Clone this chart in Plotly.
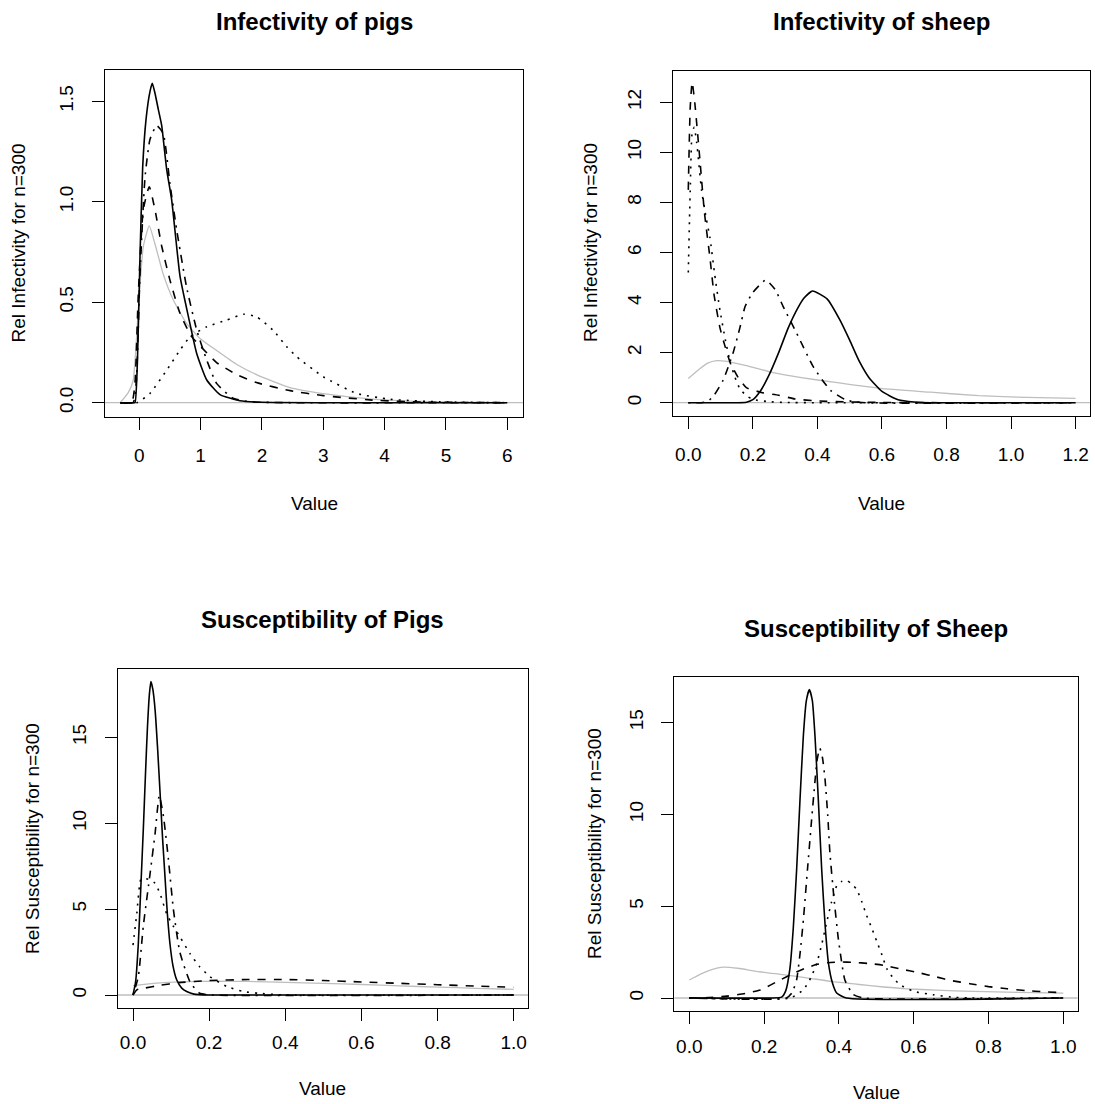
import plotly.graph_objects as go

W, H = 1095, 1104

# ---------------- Panel 1: Infectivity of pigs ----------------
p1_solid_x = [-0.31, -0.1, -0.07, -0.03, 0.01, 0.055, 0.11, 0.175, 0.212, 0.256, 0.31, 0.365, 0.447, 0.528, 0.664, 0.8, 0.936, 1.1, 1.316, 1.64, 2.0, 3.0, 6.0]
p1_solid_y = [0, 0, 0.0, 0.21, 0.71, 1.17, 1.41, 1.55, 1.59, 1.54, 1.46, 1.38, 1.16, 1.01, 0.63, 0.43, 0.245, 0.113, 0.04, 0.01, 0.002, 0, 0]
p1_dotdash_x = [-0.31, -0.1, -0.05, 0.01, 0.093, 0.174, 0.283, 0.39, 0.5, 0.61, 0.77, 0.936, 1.1, 1.26, 1.53, 1.8, 2.5, 6.0]
p1_dotdash_y = [0, 0, 0.1, 0.63, 1.12, 1.31, 1.38, 1.34, 1.09, 0.86, 0.577, 0.362, 0.212, 0.096, 0.022, 0.005, 0, 0]
p1_dashed_x = [-0.31, -0.124, -0.07, -0.016, 0.065, 0.163, 0.256, 0.365, 0.5, 0.664, 0.85, 1.0, 1.26, 1.59, 1.91, 2.46, 3.0, 3.8, 4.6, 6.0]
p1_dashed_y = [0, 0, 0.1, 0.54, 0.96, 1.075, 0.96, 0.78, 0.61, 0.445, 0.33, 0.28, 0.2, 0.14, 0.1, 0.06, 0.035, 0.013, 0.003, 0]
p1_dotted_x = [-0.31, -0.04, 0.174, 0.447, 0.664, 0.827, 1.1, 1.425, 1.7, 1.91, 2.18, 2.4, 2.566, 3.0, 3.545, 4.09, 4.9, 6.0]
p1_dotted_y = [0, 0, 0.046, 0.162, 0.262, 0.328, 0.378, 0.411, 0.44, 0.428, 0.361, 0.28, 0.229, 0.129, 0.046, 0.017, 0.004, 0]
p1_grey_x = [-0.31, -0.18, -0.1, -0.02, 0.065, 0.163, 0.256, 0.39, 0.555, 0.77, 0.99, 1.26, 1.59, 1.91, 2.46, 3.0, 3.8, 4.6, 6.0]
p1_grey_y = [0, 0.05, 0.11, 0.444, 0.776, 0.88, 0.79, 0.64, 0.511, 0.395, 0.32, 0.26, 0.19, 0.14, 0.075, 0.045, 0.018, 0.006, 0]

# ---------------- Panel 2: Infectivity of sheep ----------------
p2_solid_x = [0, 0.15, 0.18, 0.2, 0.225, 0.25, 0.28, 0.31, 0.34, 0.36, 0.385, 0.43, 0.47, 0.5, 0.53, 0.56, 0.6, 0.65, 0.7, 0.75, 1.2]
p2_solid_y = [0, 0, 0.02, 0.12, 0.5, 1.1, 2.0, 3.0, 3.8, 4.2, 4.46, 4.15, 3.3, 2.5, 1.65, 1.0, 0.45, 0.12, 0.03, 0, 0]
p2_dotdash_x = [0, 0.04, 0.06, 0.08, 0.108, 0.139, 0.16, 0.176, 0.2, 0.24, 0.27, 0.294, 0.336, 0.387, 0.44, 0.49, 0.55, 1.2]
p2_dotdash_y = [0, 0, 0.05, 0.3, 0.9, 2.0, 3.0, 3.84, 4.4, 4.9, 4.5, 3.84, 2.77, 1.44, 0.5, 0.1, 0, 0]
p2_dashed_x = [0, 0.006, 0.012, 0.02, 0.036, 0.05, 0.067, 0.08, 0.098, 0.115, 0.13, 0.155, 0.18, 0.23, 0.28, 0.33, 0.4, 0.5, 0.6, 0.8, 1.2]
p2_dashed_y = [8.5, 11.8, 12.8, 12.0, 9.7, 7.6, 5.8, 4.3, 3.0, 2.2, 1.6, 1.0, 0.6, 0.4, 0.3, 0.15, 0.07, 0.03, 0.01, 0, 0]
p2_dotted_x = [0, 0.006, 0.012, 0.018, 0.026, 0.041, 0.055, 0.067, 0.082, 0.098, 0.115, 0.13, 0.145, 0.16, 0.18, 0.2, 0.25, 0.3, 0.4, 1.2]
p2_dotted_y = [5.2, 8.5, 10.8, 11.0, 10.4, 8.5, 7.4, 6.6, 5.1, 3.7, 2.5, 1.6, 1.0, 0.55, 0.28, 0.13, 0.04, 0.01, 0, 0]
p2_grey_x = [0, 0.03, 0.06, 0.088, 0.12, 0.18, 0.263, 0.35, 0.45, 0.594, 0.75, 0.9, 1.05, 1.2]
p2_grey_y = [0.97, 1.3, 1.58, 1.68, 1.65, 1.48, 1.2, 1.0, 0.82, 0.57, 0.42, 0.28, 0.21, 0.17]

# ---------------- Panel 3: Susceptibility of Pigs ----------------
p3_solid_x = [0, 0.007, 0.014, 0.02, 0.027, 0.033, 0.038, 0.043, 0.047, 0.052, 0.058, 0.065, 0.071, 0.078, 0.084, 0.09, 0.097, 0.105, 0.115, 0.128, 0.141, 0.16, 0.2, 1.0]
p3_solid_y = [0, 0.8, 3.0, 6.0, 9.6, 13.0, 15.6, 17.5, 18.24, 17.8, 16.6, 14.2, 11.8, 9.0, 6.9, 4.8, 3.0, 1.7, 0.87, 0.4, 0.2, 0.05, 0, 0]
p3_dotdash_x = [0, 0.014, 0.027, 0.045, 0.058, 0.069, 0.08, 0.093, 0.106, 0.123, 0.15, 0.175, 0.21, 1.0]
p3_dotdash_y = [0, 1.07, 4.0, 7.1, 9.4, 11.6, 10.4, 7.9, 5.0, 2.5, 0.75, 0.1, 0, 0]
p3_dotted_x = [0, 0.01, 0.02, 0.027, 0.045, 0.058, 0.071, 0.088, 0.106, 0.123, 0.15, 0.175, 0.202, 0.246, 0.29, 0.33, 0.4, 1.0]
p3_dotted_y = [2.9, 4.75, 6.7, 6.8, 6.7, 6.5, 5.9, 4.75, 4.0, 3.4, 2.4, 1.65, 1.07, 0.5, 0.2, 0.1, 0, 0]
p3_dashed_x = [0, 0.01, 0.03, 0.07, 0.12, 0.2, 0.3, 0.4, 0.5, 0.6, 0.7, 0.8, 0.9, 1.0]
p3_dashed_y = [0, 0.3, 0.4, 0.56, 0.72, 0.84, 0.9, 0.9, 0.84, 0.76, 0.68, 0.6, 0.52, 0.45]
p3_grey_x = [0, 0.03, 0.08, 0.15, 0.22, 0.3, 0.4, 0.5, 0.6, 0.7, 0.8, 0.9, 1.0]
p3_grey_y = [0.55, 0.62, 0.72, 0.78, 0.8, 0.79, 0.74, 0.68, 0.61, 0.53, 0.46, 0.39, 0.33]

# ---------------- Panel 4: Susceptibility of Sheep ----------------
p4_solid_x = [0, 0.22, 0.247, 0.258, 0.269, 0.278, 0.287, 0.296, 0.305, 0.313, 0.321, 0.329, 0.336, 0.345, 0.354, 0.363, 0.372, 0.383, 0.394, 0.42, 1.0]
p4_solid_y = [0, 0, 0.05, 0.4, 1.6, 3.8, 7.0, 10.8, 14.3, 16.2, 16.8, 16.2, 14.3, 10.8, 7.0, 4.0, 1.9, 0.8, 0.27, 0, 0]
p4_dotdash_x = [0, 0.26, 0.275, 0.287, 0.296, 0.305, 0.316, 0.327, 0.336, 0.342, 0.349, 0.356, 0.363, 0.37, 0.376, 0.387, 0.398, 0.407, 0.416, 0.438, 0.465, 1.0]
p4_dotdash_y = [0, 0, 0.3, 1.0, 2.4, 4.25, 7.0, 9.7, 11.8, 13.0, 13.6, 13.1, 11.9, 10.0, 7.9, 5.4, 3.3, 2.0, 0.98, 0.2, 0, 0]
p4_dotted_x = [0, 0.27, 0.305, 0.325, 0.341, 0.355, 0.367, 0.38, 0.394, 0.407, 0.421, 0.435, 0.448, 0.462, 0.474, 0.488, 0.501, 0.515, 0.528, 0.545, 0.563, 0.6, 0.652, 0.7, 0.75, 1.0]
p4_dotted_y = [0, 0, 0.45, 1.1, 1.9, 3.0, 4.1, 5.2, 6.1, 6.35, 6.4, 6.2, 5.9, 5.2, 4.5, 3.8, 3.1, 2.35, 1.6, 1.1, 0.73, 0.36, 0.18, 0.05, 0, 0]
p4_dashed_x = [0, 0.05, 0.1, 0.15, 0.19, 0.243, 0.278, 0.31, 0.34, 0.37, 0.4, 0.44, 0.48, 0.52, 0.56, 0.617, 0.66, 0.7, 0.75, 0.8, 0.85, 0.9, 0.95, 1.0]
p4_dashed_y = [0, 0.02, 0.1, 0.25, 0.44, 0.98, 1.34, 1.62, 1.82, 1.92, 1.96, 1.94, 1.88, 1.78, 1.6, 1.36, 1.15, 0.95, 0.78, 0.62, 0.5, 0.4, 0.34, 0.29]
p4_grey_x = [0, 0.03, 0.06, 0.09, 0.13, 0.18, 0.25, 0.314, 0.38, 0.448, 0.52, 0.582, 0.66, 0.76, 0.88, 1.0]
p4_grey_y = [0.98, 1.3, 1.55, 1.68, 1.62, 1.45, 1.27, 1.1, 0.9, 0.75, 0.6, 0.5, 0.43, 0.36, 0.31, 0.27]

# axis ticks
p1_xticks = [0, 1, 2, 3, 4, 5, 6]
p1_yticks = [0.0, 0.5, 1.0, 1.5]
p2_xticks = [0.0, 0.2, 0.4, 0.6, 0.8, 1.0, 1.2]
p2_yticks = [0, 2, 4, 6, 8, 10, 12]
p3_xticks = [0.0, 0.2, 0.4, 0.6, 0.8, 1.0]
p3_yticks = [0, 5, 10, 15]
p4_xticks = [0.0, 0.2, 0.4, 0.6, 0.8, 1.0]
p4_yticks = [0, 5, 10, 15]
baseline_y = 0

titles = ["Infectivity of pigs", "Infectivity of sheep", "Susceptibility of Pigs", "Susceptibility of Sheep"]
ytitles = ["Rel Infectivity for n=300", "Rel Infectivity for n=300",
           "Rel Susceptibility for n=300", "Rel Susceptibility for n=300"]
xtitle = "Value"

FONT = "Liberation Sans, Arial, Helvetica, sans-serif"
GREY = "#BEBEBE"
LW = 1.6
DASH = {"solid": "solid", "dashed": "8px,8px", "dotted": "2px,6px", "dotdash": "2px,6px,8px,6px"}

def px2x(p):
    return p / W

def px2y(p):
    return 1 - p / H

# plot boxes in pixels: (left, right, top, bottom)
boxes = [(105, 523, 70, 417), (672.7, 1090, 70.7, 416), (117.7, 528.3, 669.3, 1008.3), (674.3, 1077.7, 676.7, 1010.7)]
xranges = [(-0.559, 6.256), (-0.0483, 1.2446), (-0.0402, 1.0383), (-0.0401, 1.0385)]
yranges = [(-0.0712, 1.656), (-0.531, 13.26), (-0.774, 18.96), (-0.692, 17.5)]
xticks = [p1_xticks, p2_xticks, p3_xticks, p4_xticks]
yticks = [p1_yticks, p2_yticks, p3_yticks, p4_yticks]
xfmt = ["d", ".1f", ".1f", ".1f"]
yfmt = [".1f", "d", "d", "d"]
xstandoff = [9, 9, 5, 6]
ystandoff = [11, 11, 11, 11]

series = [
    [(p1_grey_x, p1_grey_y, "grey"), (p1_solid_x, p1_solid_y, "solid"), (p1_dashed_x, p1_dashed_y, "dashed"),
     (p1_dotted_x, p1_dotted_y, "dotted"), (p1_dotdash_x, p1_dotdash_y, "dotdash")],
    [(p2_grey_x, p2_grey_y, "grey"), (p2_solid_x, p2_solid_y, "solid"), (p2_dashed_x, p2_dashed_y, "dashed"),
     (p2_dotted_x, p2_dotted_y, "dotted"), (p2_dotdash_x, p2_dotdash_y, "dotdash")],
    [(p3_grey_x, p3_grey_y, "grey"), (p3_solid_x, p3_solid_y, "solid"), (p3_dashed_x, p3_dashed_y, "dashed"),
     (p3_dotted_x, p3_dotted_y, "dotted"), (p3_dotdash_x, p3_dotdash_y, "dotdash")],
    [(p4_grey_x, p4_grey_y, "grey"), (p4_solid_x, p4_solid_y, "solid"), (p4_dashed_x, p4_dashed_y, "dashed"),
     (p4_dotted_x, p4_dotted_y, "dotted"), (p4_dotdash_x, p4_dotdash_y, "dotdash")],
]

fig = go.Figure()
layout = dict(width=W, height=H, margin=dict(l=0, r=0, t=0, b=0), showlegend=False,
              paper_bgcolor="white", plot_bgcolor="white",
              font=dict(family=FONT, size=19, color="black"))
annotations = []
shapes = []

title_pos = [(314, 22), (881, 22), (323, 619), (876, 628)]
xtitle_pos = [(314, 503), (881, 503), (323, 1088), (876, 1092)]
ytitle_pos = [(18, 243.5), (590, 243), (32, 839), (594, 844)]

for i in range(4):
    k = "" if i == 0 else str(i + 1)
    l, r, t, b = boxes[i]
    axstyle = dict(showline=True, mirror=True, linecolor="black", linewidth=1.3,
                   ticks="outside", ticklen=12, tickwidth=1.3, tickcolor="black",
                   showgrid=False, zeroline=False, tickfont=dict(family=FONT, size=19),
                   fixedrange=True)
    layout["xaxis" + k] = dict(domain=[px2x(l), px2x(r)], range=list(xranges[i]), anchor="y" + k,
                               tickvals=xticks[i], tickformat=xfmt[i], ticklabelstandoff=xstandoff[i], **axstyle)
    layout["yaxis" + k] = dict(domain=[px2y(b), px2y(t)], range=list(yranges[i]), anchor="x" + k,
                               tickvals=yticks[i], tickformat=yfmt[i], tickangle=-90,
                               ticklabelstandoff=ystandoff[i], **axstyle)
    for xs, ys, sty in series[i]:
        if sty == "grey":
            line = dict(color=GREY, width=1.3, dash="solid")
        else:
            line = dict(color="black", width=LW, dash=DASH[sty])
        fig.add_trace(go.Scatter(x=xs, y=ys, mode="lines", line=line, line_shape="spline",
                                 line_smoothing=0.5, xaxis="x" + k, yaxis="y" + k, hoverinfo="skip"))
    shapes.append(dict(type="line", xref="x" + k + " domain", yref="y" + k, x0=0, x1=1,
                       y0=baseline_y, y1=baseline_y, line=dict(color=GREY, width=1.3), layer="below"))
    annotations.append(dict(text="<b>" + titles[i] + "</b>", x=px2x(title_pos[i][0]), y=px2y(title_pos[i][1]),
                            xref="paper", yref="paper", xanchor="center", yanchor="middle", showarrow=False,
                            font=dict(family=FONT, size=24)))
    annotations.append(dict(text=xtitle, x=px2x(xtitle_pos[i][0]), y=px2y(xtitle_pos[i][1]),
                            xref="paper", yref="paper", xanchor="center", yanchor="middle", showarrow=False,
                            font=dict(family=FONT, size=19)))
    annotations.append(dict(text=ytitles[i], x=px2x(ytitle_pos[i][0]), y=px2y(ytitle_pos[i][1]),
                            xref="paper", yref="paper", xanchor="center", yanchor="middle", showarrow=False,
                            textangle=-90, font=dict(family=FONT, size=19)))

layout["annotations"] = annotations
layout["shapes"] = shapes
fig.update_layout(**layout)
fig.write_html("out.html")
